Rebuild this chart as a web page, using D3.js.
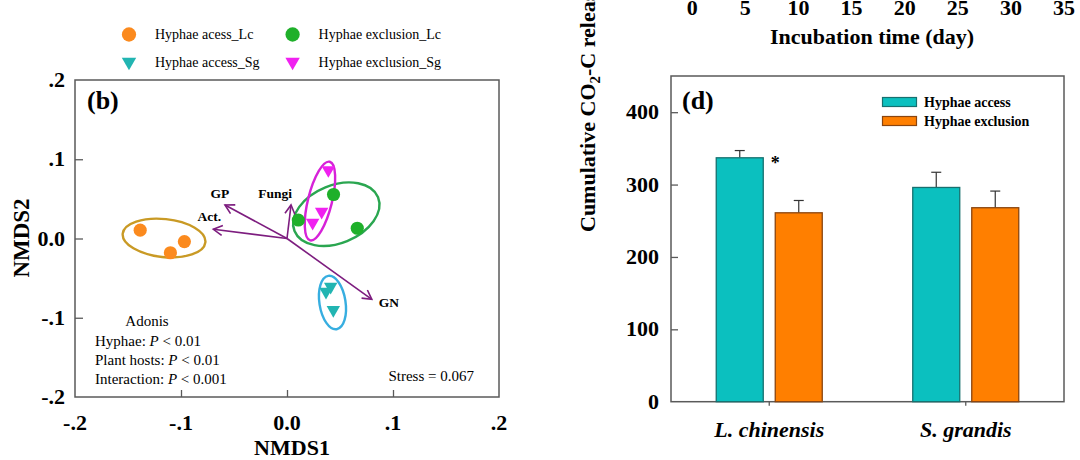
<!DOCTYPE html>
<html>
<head>
<meta charset="utf-8">
<script src="https://cdn.jsdelivr.net/npm/d3@7"></script>
<style>
  html, body { margin: 0; padding: 0; background: #fff; }
  svg { display: block; }
</style>
</head>
<body>
<div id="chart"></div>
<script>
// ---- NMDS panel (b) data ----
var groupNames = ["Hyphae acess_Lc", "Hyphae exclusion_Lc", "Hyphae access_Sg", "Hyphae exclusion_Sg"];
var accessLc    = [[-0.1385, 0.0105], [-0.110, -0.018], [-0.0968, -0.0039]];
var exclusionLc = [[0.0439, 0.0555], [0.0107, 0.0233], [0.0663, 0.0129]];
var accessSg    = [[0.0412, -0.0608], [0.0368, -0.0671], [0.0437, -0.0902]];
var exclusionSg = [[0.039, 0.0864], [0.0327, 0.0338], [0.0242, 0.0200]];
// ellipse: centre x, centre y, radius x, radius y (data units), tilt in degrees
var ellAccessLc    = [-0.116, 0.0006, 0.0392, 0.024, 6];
var ellExclusionLc = [0.0465, 0.0307, 0.0425, 0.0366, -22];
var ellAccessSg    = [0.0429, -0.0808, 0.0123, 0.0341, -9];
var ellExclusionSg = [0.0311, 0.0473, 0.0113, 0.0511, 14];
var vectorNames = ["GP", "Act.", "Fungi", "GN"];
var vectorX = [-0.0585, -0.0695, 0.0038, 0.080];
var vectorY = [0.0423, 0.0116, 0.0423, -0.0767];
var nmdsTicks = [-0.2, -0.1, 0, 0.1, 0.2];
var nmdsTickLabels = ["-.2", "-.1", "0.0", ".1", ".2"];
var adonisLines = [["Hyphae: ", "< 0.01"], ["Plant hosts: ", "< 0.01"], ["Interaction: ", "< 0.001"]];

// ---- bar panel (d) data ----
var species = ["L. chinensis", "S. grandis"];
var treatments = ["Hyphae access", "Hyphae exclusion"];
var accessMean = [337, 296];
var accessErr = [10, 21];
var exclusionMean = [261, 268];
var exclusionErr = [17, 23];
var barTicks = [0, 100, 200, 300, 400];
var timeTicks = [0, 5, 10, 15, 20, 25, 30, 35];

var serif = "'Liberation Serif', 'Times New Roman', Times, serif";
var frameColor = "#5a5a5a";
var colAccessLc = "#fb8a1e", colExclusionLc = "#1fb02a",
    colAccessSg = "#22b5b2", colExclusionSg = "#f021f0";
var ellColors = ["#c99a25", "#2aa650", "#37aee0", "#d622d8"];
var arrowColor = "#7d1d7f";
var barFill = ["#0bc0bf", "#ff7f00"], barStroke = ["#17706f", "#8a4510"];

var svg = d3.select("#chart").append("svg")
  .attr("width", 1080).attr("height", 460)
  .attr("font-family", serif);
svg.append("rect").attr("width", 1080).attr("height", 460).attr("fill", "#fff");

var defs = svg.append("defs");
defs.append("marker").attr("id", "arrowHead")
  .attr("markerUnits", "userSpaceOnUse")
  .attr("viewBox", "0 -6 12 12")
  .attr("refX", 10).attr("refY", 0)
  .attr("markerWidth", 12).attr("markerHeight", 12)
  .attr("orient", "auto")
  .append("path").attr("d", "M1,-5L10,0L1,5")
  .attr("fill", "none").attr("stroke", arrowColor).attr("stroke-width", 1.6);

// ================= panel (b) =================
var bx = d3.scaleLinear().domain([-0.2, 0.2]).range([75, 499]);
var by = d3.scaleLinear().domain([-0.2, 0.2]).range([397, 80]);

var pb = svg.append("g").attr("id", "panelB");

pb.append("rect").attr("x", bx(-0.2)).attr("y", by(0.2))
  .attr("width", bx(0.2) - bx(-0.2)).attr("height", by(-0.2) - by(0.2))
  .attr("fill", "none").attr("stroke", frameColor).attr("stroke-width", 1.5);

// inward ticks, bottom and left
pb.append("g").attr("transform", "translate(0," + by(-0.2) + ")")
  .call(d3.axisTop(bx).tickValues(nmdsTicks.slice(1, 4)).tickSize(7).tickFormat(""))
  .call(function(g){ g.select(".domain").remove(); g.selectAll("line").attr("stroke", frameColor).attr("stroke-width", 1.3); });
pb.append("g").attr("transform", "translate(" + bx(-0.2) + ",0)")
  .call(d3.axisRight(by).tickValues(nmdsTicks.slice(1, 4)).tickSize(8).tickFormat(""))
  .call(function(g){ g.select(".domain").remove(); g.selectAll("line").attr("stroke", frameColor).attr("stroke-width", 1.3); });

pb.selectAll(".xlab").data(nmdsTicks).enter().append("text")
  .attr("x", function(d){ return bx(d); }).attr("y", 430)
  .attr("text-anchor", "middle").attr("font-size", 22).attr("font-weight", "bold")
  .text(function(d, i){ return nmdsTickLabels[i]; });
pb.selectAll(".ylab").data(nmdsTicks).enter().append("text")
  .attr("x", 65).attr("y", function(d){ return by(d) + 7; })
  .attr("text-anchor", "end").attr("font-size", 22).attr("font-weight", "bold")
  .text(function(d, i){ return nmdsTickLabels[i]; });

pb.append("text").attr("x", 292).attr("y", 455)
  .attr("text-anchor", "middle").attr("font-size", 22).attr("font-weight", "bold")
  .text("NMDS1");
pb.append("text").attr("transform", "translate(29,238) rotate(-90)")
  .attr("text-anchor", "middle").attr("font-size", 23).attr("font-weight", "bold")
  .text("NMDS2");

pb.append("text").attr("x", 87).attr("y", 109)
  .attr("font-size", 26).attr("font-weight", "bold").text("(b)");

// ellipses
var ellipses = [ellAccessLc, ellExclusionLc, ellAccessSg, ellExclusionSg];
pb.selectAll(".ell").data(ellipses).enter().append("ellipse")
  .attr("transform", function(d){ return "translate(" + bx(d[0]) + "," + by(d[1]) + ") rotate(" + d[4] + ")"; })
  .attr("rx", function(d){ return bx(d[2]) - bx(0); })
  .attr("ry", function(d){ return by(0) - by(d[3]); })
  .attr("fill", "none")
  .attr("stroke", function(d, i){ return ellColors[i]; })
  .attr("stroke-width", 2.4);

// vectors
var vg = pb.append("g");
vectorNames.forEach(function(name, i){
  vg.append("line")
    .attr("x1", bx(0)).attr("y1", by(0))
    .attr("x2", bx(vectorX[i])).attr("y2", by(vectorY[i]))
    .attr("stroke", arrowColor).attr("stroke-width", 1.6)
    .attr("marker-end", "url(#arrowHead)");
});
var vecLabelPos = [[-5, -7, "middle"], [-4, -8, "middle"], [-16, -7, "middle"], [7, 8, "start"]];
vectorNames.forEach(function(name, i){
  vg.append("text")
    .attr("x", bx(vectorX[i]) + vecLabelPos[i][0])
    .attr("y", by(vectorY[i]) + vecLabelPos[i][1])
    .attr("text-anchor", vecLabelPos[i][2])
    .attr("font-size", 13.5).attr("font-weight", "bold")
    .text(name);
});

// points
var circlePath = d3.symbol(d3.symbolCircle, 136);
var triPath = d3.symbol(d3.symbolTriangle, 78);
function drawPoints(pts, color, tri){
  pb.selectAll(null).data(pts).enter().append("path")
    .attr("d", tri ? triPath : circlePath)
    .attr("transform", function(d){ return "translate(" + bx(d[0]) + "," + by(d[1]) + ")" + (tri ? " rotate(180)" : ""); })
    .attr("fill", color);
}
drawPoints(accessLc, colAccessLc, false);
drawPoints(exclusionLc, colExclusionLc, false);
drawPoints(exclusionSg, colExclusionSg, true);
drawPoints(accessSg, colAccessSg, true);

// adonis text
pb.append("text").attr("x", 147).attr("y", 326)
  .attr("text-anchor", "middle").attr("font-size", 15).text("Adonis");
adonisLines.forEach(function(l, i){
  var t = pb.append("text").attr("x", 95).attr("y", 346 + i * 18.8).attr("font-size", 15);
  t.append("tspan").text(l[0]);
  t.append("tspan").attr("font-style", "italic").text("P");
  t.append("tspan").text(" " + l[1]);
});
pb.append("text").attr("x", 474).attr("y", 381)
  .attr("text-anchor", "end").attr("font-size", 15).text("Stress = 0.067");

// legend on top
var legPos = [[129, 34.5], [292.6, 34.5], [129, 62], [292.6, 62]];
var legColors = [colAccessLc, colExclusionLc, colAccessSg, colExclusionSg];
var lg = svg.append("g");
groupNames.forEach(function(name, i){
  var tri = i >= 2;
  lg.append("path")
    .attr("d", tri ? d3.symbol(d3.symbolTriangle, 90)() : d3.symbol(d3.symbolCircle, 160)())
    .attr("transform", "translate(" + legPos[i][0] + "," + legPos[i][1] + ")" + (tri ? " rotate(180)" : ""))
    .attr("fill", legColors[i]);
  lg.append("text").attr("x", legPos[i][0] + 26).attr("y", legPos[i][1] + 4.5)
    .attr("font-size", 14).text(name);
});

// ================= panel (d) =================
var dx0 = d3.scaleBand().domain(species).range([671, 1064]).padding(0);
var groupW = 106;
var dx1 = d3.scaleBand().domain(treatments)
  .range([dx0.bandwidth() / 2 - groupW / 2, dx0.bandwidth() / 2 + groupW / 2])
  .paddingInner(0.2034);
var dy = d3.scaleLinear().domain([0, 450]).range([401.7, 76]);

var pd = svg.append("g").attr("id", "panelD");

pd.append("rect").attr("x", 671).attr("y", dy(450))
  .attr("width", 1064 - 671).attr("height", dy(0) - dy(450))
  .attr("fill", "none").attr("stroke", frameColor).attr("stroke-width", 1.5);

pd.append("g").attr("transform", "translate(671,0)")
  .call(d3.axisRight(dy).tickValues(barTicks.slice(1)).tickSize(7).tickFormat(""))
  .call(function(g){ g.select(".domain").remove(); g.selectAll("line").attr("stroke", frameColor).attr("stroke-width", 1.3); });
pd.append("g").attr("transform", "translate(0," + dy(0) + ")")
  .call(d3.axisBottom(dx0).tickSize(4).tickFormat(""))
  .call(function(g){ g.select(".domain").remove(); g.selectAll("line").attr("stroke", frameColor).attr("stroke-width", 1.3); });

pd.selectAll(".ylab").data(barTicks).enter().append("text")
  .attr("x", 659).attr("y", function(d){ return dy(d) + 7; })
  .attr("text-anchor", "end").attr("font-size", 22).attr("font-weight", "bold")
  .text(function(d){ return d; });
pd.selectAll(".xlab").data(species).enter().append("text")
  .attr("x", function(d){ return dx0(d) + dx0.bandwidth() / 2; }).attr("y", 437)
  .attr("text-anchor", "middle").attr("font-size", 22)
  .attr("font-weight", "bold").attr("font-style", "italic")
  .text(function(d){ return d; });

var barData = [];
species.forEach(function(s, i){
  barData.push({ s: s, t: treatments[0], v: accessMean[i], e: accessErr[i], k: 0 });
  barData.push({ s: s, t: treatments[1], v: exclusionMean[i], e: exclusionErr[i], k: 1 });
});
var bars = pd.selectAll(".bar").data(barData).enter().append("g");
bars.append("line")
  .attr("x1", function(d){ return dx0(d.s) + dx1(d.t) + dx1.bandwidth() / 2; })
  .attr("x2", function(d){ return dx0(d.s) + dx1(d.t) + dx1.bandwidth() / 2; })
  .attr("y1", function(d){ return dy(d.v); })
  .attr("y2", function(d){ return dy(d.v + d.e); })
  .attr("stroke", "#333").attr("stroke-width", 1.2);
bars.append("line")
  .attr("x1", function(d){ return dx0(d.s) + dx1(d.t) + dx1.bandwidth() / 2 - 5; })
  .attr("x2", function(d){ return dx0(d.s) + dx1(d.t) + dx1.bandwidth() / 2 + 5; })
  .attr("y1", function(d){ return dy(d.v + d.e); })
  .attr("y2", function(d){ return dy(d.v + d.e); })
  .attr("stroke", "#333").attr("stroke-width", 1.2);
bars.append("rect")
  .attr("x", function(d){ return dx0(d.s) + dx1(d.t); })
  .attr("y", function(d){ return dy(d.v); })
  .attr("width", dx1.bandwidth())
  .attr("height", function(d){ return dy(0) - dy(d.v); })
  .attr("fill", function(d){ return barFill[d.k]; })
  .attr("stroke", function(d){ return barStroke[d.k]; })
  .attr("stroke-width", 1.3);

pd.append("text")
  .attr("x", dx0(species[0]) + dx1(treatments[1]))
  .attr("y", dy(accessMean[0]) + 11)
  .attr("text-anchor", "middle").attr("font-size", 18).attr("font-weight", "bold")
  .text("*");

pd.append("text").attr("x", 682).attr("y", 109)
  .attr("font-size", 26).attr("font-weight", "bold").text("(d)");

// legend
treatments.forEach(function(t, i){
  pd.append("rect").attr("x", 882.5).attr("y", 97.5 + i * 19)
    .attr("width", 34).attr("height", 9)
    .attr("fill", barFill[i]).attr("stroke", barStroke[i]).attr("stroke-width", 1.2);
  pd.append("text").attr("x", 924).attr("y", 106.5 + i * 19)
    .attr("font-size", 14).attr("font-weight", "bold").text(t);
});

// y title (runs off the top)
var yt = pd.append("text").attr("transform", "translate(595,232) rotate(-90)")
  .attr("font-size", 22).attr("font-weight", "bold");
yt.append("tspan").text("Cumulative CO");
yt.append("tspan").attr("font-size", 15).attr("dy", 5).text("2");
yt.append("tspan").attr("dy", -5).text("-C release (mg kg");
yt.append("tspan").attr("font-size", 15).attr("dy", -8).text("-1");
yt.append("tspan").attr("dy", 8).text(")");

// bottom of the panel above: its x axis labels and title
var tx = d3.scaleLinear().domain([-2, 35]).range([671, 1064]);
pd.selectAll(".tlab").data(timeTicks).enter().append("text")
  .attr("x", function(d){ return tx(d); }).attr("y", 15)
  .attr("text-anchor", "middle").attr("font-size", 22).attr("font-weight", "bold")
  .text(function(d){ return d; });
pd.append("text").attr("x", 872).attr("y", 44)
  .attr("text-anchor", "middle").attr("font-size", 22).attr("font-weight", "bold")
  .text("Incubation time (day)");
</script>
</body>
</html>
